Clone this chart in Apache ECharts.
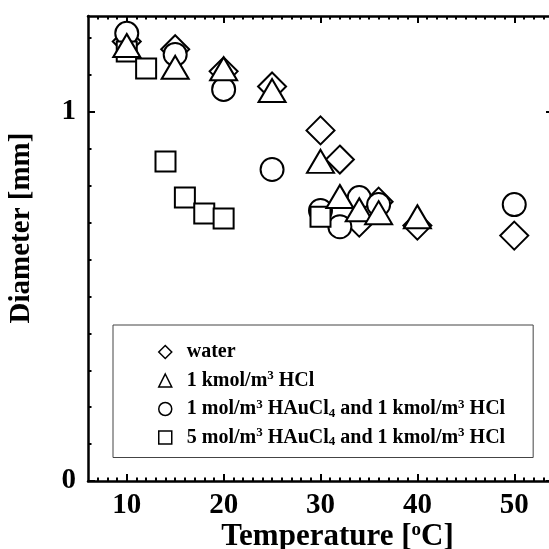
<!DOCTYPE html>
<html>
<head>
<meta charset="utf-8">
<script src="https://cdn.jsdelivr.net/npm/echarts@6/dist/echarts.min.js"></script>
<style>
html, body { margin: 0; padding: 0; background: #fff; }
#main { width: 549px; height: 549px; }
</style>
</head>
<body>
<div id="main"></div>
<script>
// temperature [oC] / diameter [mm] for each solution
var tWater = [10, 15, 20, 25, 30, 32, 34, 36, 40, 50];
var dWater = [1.191, 1.170, 1.110, 1.069, 0.950, 0.871, 0.700, 0.757, 0.692, 0.665];

var tHcl = [10, 15, 20, 25, 30, 32, 34, 36, 40];
var dHcl = [1.180, 1.121, 1.117, 1.058, 0.866, 0.771, 0.735, 0.727, 0.716];

var tAu1 = [10, 15, 20, 25, 30, 32, 34, 36, 50];
var dAu1 = [1.213, 1.156, 1.061, 0.844, 0.733, 0.689, 0.768, 0.749, 0.749];

var tAu5 = [10, 12, 14, 16, 18, 20, 30];
var dAu5 = [1.164, 1.118, 0.866, 0.768, 0.725, 0.711, 0.716];

var seriesNames = ['water', 'hcl', 'au1', 'au5'];
var legendLabels = [
    'water',
    '1 kmol/m{sup|3} HCl',
    '1 mol/m{sup|3} HAuCl{sub|4} and 1 kmol/m{sup|3} HCl',
    '5 mol/m{sup|3} HAuCl{sub|4} and 1 kmol/m{sup|3} HCl'
];

var xMajor = [10, 20, 30, 40, 50];
var xMinor = [];
for (var i = 7; i <= 53; i++) { if (i % 10 != 0) xMinor.push(i); }
var yMajor = [0, 1];
var yMinor = [0.1, 0.2, 0.3, 0.4, 0.5, 0.6, 0.7, 0.8, 0.9, 1.1, 1.2];

var font = 'Liberation Serif, Times New Roman, serif';

function pairs(xs, ys) {
    return xs.map(function (x, k) { return [x, ys[k]]; });
}

function xAxisOf(pos, values, len, showLine, showLabel) {
    return {
        type: 'value', position: pos, min: 6, max: 54,
        splitLine: { show: false },
        axisLine: { show: showLine, onZero: false, lineStyle: { color: '#000', width: 2.5 } },
        axisTick: { inside: true, length: len, customValues: values, lineStyle: { color: '#000', width: 2 } },
        axisLabel: showLabel ? {
            customValues: values, margin: 10, color: '#000',
            fontFamily: font, fontWeight: 'bold', fontSize: 29
        } : { show: false }
    };
}

function yAxisOf(pos, values, len, showLine, showLabel) {
    return {
        type: 'value', position: pos, min: 0, max: 1.26,
        splitLine: { show: false },
        axisLine: { show: showLine, onZero: false, lineStyle: { color: '#000', width: 2.5 } },
        axisTick: { inside: true, length: len, customValues: values, lineStyle: { color: '#000', width: 2 } },
        axisLabel: showLabel ? {
            customValues: values, margin: 12, color: '#000',
            fontFamily: font, fontWeight: 'bold', fontSize: 29
        } : { show: false }
    };
}

var xAxes = [
    xAxisOf('bottom', xMajor, 7, true, true),
    xAxisOf('bottom', xMinor, 3.5, false, false),
    xAxisOf('top', xMajor, 7, true, false),
    xAxisOf('top', xMinor, 3.5, false, false)
];
xAxes[0].name = '{a|Temperature [}{s|o}{a|C]}';
xAxes[0].nameLocation = 'middle';
xAxes[0].nameGap = 40;
xAxes[0].nameMoveOverlap = false;
xAxes[0].nameTextStyle = {
    padding: [0, 0, 0, 34],
    rich: {
        a: { fontFamily: font, fontWeight: 'bold', fontSize: 31, color: '#000', lineHeight: 32 },
        s: { fontFamily: font, fontWeight: 'bold', fontSize: 19, color: '#000', verticalAlign: 'top', lineHeight: 16 }
    }
};

var yAxes = [
    yAxisOf('left', yMajor, 7, true, true),
    yAxisOf('left', yMinor, 3.5, false, false),
    yAxisOf('right', yMajor, 7, true, false),
    yAxisOf('right', yMinor, 3.5, false, false)
];
yAxes[0].name = 'Diameter [mm]';
yAxes[0].nameLocation = 'middle';
yAxes[0].nameGap = 52;
yAxes[0].nameMoveOverlap = false;
yAxes[0].nameTextStyle = {
    fontFamily: font, fontWeight: 'bold', fontSize: 29, color: '#000',
    padding: [0, 0, 0, 41]
};

function scatter(name, symbol, size, data) {
    return {
        name: name, type: 'scatter', symbol: symbol, symbolSize: size,
        data: data,
        itemStyle: { color: '#fff', borderColor: '#000', borderWidth: 2, opacity: 1 },
        emphasis: { disabled: true }
    };
}

var option = {
    animation: false,
    backgroundColor: '#fff',
    grid: { left: 88, width: 465, top: 16, height: 465, outerBoundsMode: 'none', containLabel: false },
    xAxis: xAxes,
    yAxis: yAxes,
    legend: {
        orient: 'vertical',
        left: 113, top: 325,
        padding: [16, 28, 9, 45],
        itemGap: 6.5,
        itemWidth: 13, itemHeight: 13,
        borderColor: '#444', borderWidth: 1,
        backgroundColor: '#fff',
        selectedMode: false,
        data: seriesNames,
        itemStyle: { borderWidth: 1.5 },
        formatter: function (name) { return legendLabels[seriesNames.indexOf(name)]; },
        textStyle: {
            fontFamily: font, fontWeight: 'bold', fontSize: 20, color: '#000', lineHeight: 22,
            padding: [0, 0, 0, 10],
            rich: {
                sup: { fontFamily: font, fontWeight: 'bold', fontSize: 13, color: '#000', verticalAlign: 'top', lineHeight: 12 },
                sub: { fontFamily: font, fontWeight: 'bold', fontSize: 13, color: '#000', verticalAlign: 'bottom', lineHeight: 8 }
            }
        }
    },
    series: [
        scatter('water', 'diamond', [28, 28], pairs(tWater, dWater)),
        scatter('au1', 'circle', 23, pairs(tAu1, dAu1)),
        scatter('au5', 'rect', 20, pairs(tAu5, dAu5)),
        scatter('hcl', 'triangle', [27, 23], pairs(tHcl, dHcl))
    ]
};

var myChart = echarts.init(document.getElementById('main'));
myChart.setOption(option);
</script>
</body>
</html>
